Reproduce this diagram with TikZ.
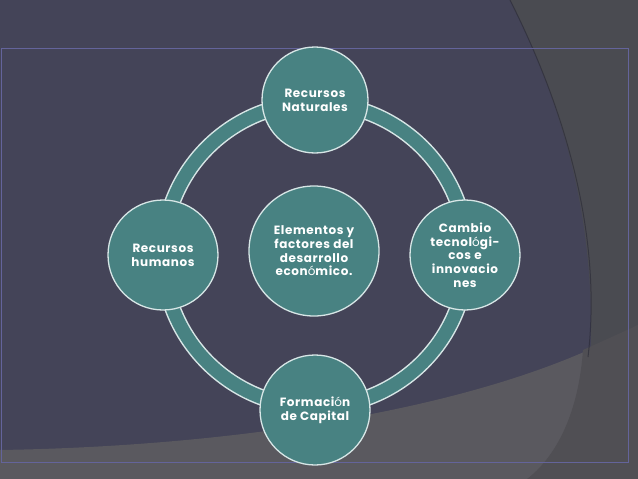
\documentclass[tikz,border=0pt]{standalone}
\usepackage{fontspec}
\setmainfont{Poppins}[LetterSpace=5]
\definecolor{bgc}{RGB}{68,68,88}
\definecolor{rightc}{RGB}{74,75,81}
\definecolor{botc}{RGB}{90,89,95}
\definecolor{botrc}{RGB}{80,79,84}
\definecolor{framec}{RGB}{100,100,155}
\definecolor{tealc}{RGB}{72,130,130}
\definecolor{rimc}{RGB}{215,230,230}
\tikzset{
  bubble/.style={circle, fill=tealc, draw=rimc, line width=1.3pt, inner sep=0pt,
    text=white, align=center, font=\fontsize{12}{13.7}\selectfont\bfseries},
  small/.style={bubble, minimum size=110pt},
  big/.style={bubble, minimum size=130pt},
}
\newcommand{\acc}[1]{{\mdseries #1}}
\begin{document}
\begin{tikzpicture}[x=1pt,y=-1pt]
\useasboundingbox (0,0) rectangle (638,479);
% background
\fill[bgc] (0,0) rectangle (638,479);
\fill[rightc] (510,0) .. controls (568,115) and (602,240) .. (588,400) -- (638,400) -- (638,0) -- cycle;
\fill[botc] (0,450) .. controls (250,446) and (500,405) .. (638,325) -- (638,479) -- (0,479) -- cycle;
\fill[botrc] (583,350) .. controls (578,420) and (552,460) .. (527,479) -- (638,479) -- (638,325) -- cycle;
\draw[black!40!bgc, opacity=0.6, line width=1pt] (510,0) .. controls (568,115) and (602,240) .. (588,357);
\draw[framec, line width=1pt] (1.5,48) rectangle (628,462);
% ring
\coordinate (ctr) at (315,255);
\draw[rimc, line width=16.5pt] (ctr) circle[radius=152];
\draw[tealc, line width=13.5pt] (ctr) circle[radius=152];
% nodes
\node[big] (core) at (314,251) {Elementos y\\factores del\\desarrollo\\econ\acc{ó}mico.};
\node[small, minimum size=106pt] (nat) at (315,100) {Recursos\\Naturales};
\node[small] (hum) at (163,255) {Recursos\\humanos};
\node[small] (tec) at (465,255) {Cambio\\tecnol\acc{ó}gi-\\cos e\\innovacio\\nes};
\node[small] (cap) at (315,410) {Formaci\acc{ó}n\\de Capital};
\end{tikzpicture}
\end{document}
